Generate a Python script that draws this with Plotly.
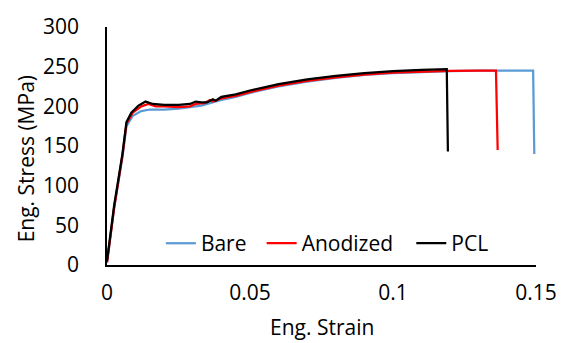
import plotly.graph_objects as go

# Bare (blue)
bare_strain = [0, 0.0025, 0.0054, 0.0068, 0.009, 0.012, 0.015, 0.02, 0.025, 0.03, 0.033, 0.036, 0.04,
               0.045, 0.05, 0.06, 0.07, 0.08, 0.09, 0.1, 0.11, 0.12, 0.13, 0.14, 0.149, 0.1494]
bare_stress = [3, 72, 136, 175, 188, 194, 196, 196, 197, 199, 201, 204, 208,
               212, 217, 225, 231, 236, 239.5, 242, 243.5, 244.5, 245, 245, 245, 140]

# Anodized (red)
anod_strain = [0, 0.0025, 0.0054, 0.0068, 0.009, 0.012, 0.0145, 0.017, 0.02, 0.025, 0.029, 0.031, 0.034,
               0.036, 0.037, 0.04, 0.045, 0.05, 0.06, 0.07, 0.08, 0.09, 0.1, 0.11, 0.12, 0.13, 0.136, 0.1366]
anod_stress = [3, 72, 138, 178, 192, 200, 203, 200, 200, 199, 200, 203, 204,
               208, 206, 210, 213, 218, 226, 232, 236.5, 240, 242.5, 244, 244.8, 245, 245, 145]

# PCL (black)
pcl_strain = [0, 0.0025, 0.0054, 0.0068, 0.0085, 0.011, 0.0135, 0.016, 0.02, 0.025, 0.029, 0.031, 0.033,
              0.035, 0.037, 0.038, 0.04, 0.045, 0.05, 0.06, 0.07, 0.08, 0.09, 0.1, 0.11, 0.118, 0.1188, 0.1192]
pcl_stress = [5, 75, 140, 180, 192, 201, 206, 203, 202, 202, 203, 206, 205,
              205, 209, 207, 212, 215, 220, 228, 234, 238.5, 242, 244.5, 246, 247, 247, 143]

x_ticks = [0, 0.05, 0.1, 0.15]
x_tick_labels = ["0", "0.05", "0.1", "0.15"]
y_ticks = [0, 50, 100, 150, 200, 250, 300]

FONT = "Open Sans"
FS = 21
TFS = 21

fig = go.Figure()
fig.add_trace(go.Scatter(x=bare_strain, y=bare_stress, mode="lines", name="Bare",
                         line=dict(color="#5B9BD5", width=2.25), legend="legend"))
fig.add_trace(go.Scatter(x=anod_strain, y=anod_stress, mode="lines", name="Anodized",
                         line=dict(color="#FF0000", width=2.25), legend="legend2"))
fig.add_trace(go.Scatter(x=pcl_strain, y=pcl_stress, mode="lines", name="PCL",
                         line=dict(color="#000000", width=2.25), legend="legend3"))

leg_common = dict(orientation="h", y=0.09, xanchor="left", yanchor="middle",
                  bgcolor="rgba(0,0,0,0)", font=dict(size=FS), itemwidth=30)

fig.update_layout(
    width=569, height=343,
    margin=dict(l=107, r=32, t=20, b=78),
    paper_bgcolor="white", plot_bgcolor="white",
    font=dict(family=FONT, size=FS, color="#000000"),
    showlegend=True,
    legend=dict(x=0.1256, **leg_common),
    legend2=dict(x=0.3605, **leg_common),
    legend3=dict(x=0.7093, **leg_common),
    xaxis=dict(range=[0, 0.15], tickvals=x_ticks, ticktext=x_tick_labels,
               showgrid=False, zeroline=False, showline=True, linecolor="#000000", linewidth=1.5,
               ticks="", ticklabelstandoff=8),
    yaxis=dict(range=[0, 300], tickvals=y_ticks,
               showgrid=False, zeroline=False, showline=True, linecolor="#000000", linewidth=1.5,
               ticks="", ticklabelstandoff=22),
    annotations=[
        dict(text="Eng. Strain", x=0.5, y=-0.327, xref="paper", yref="paper",
             xanchor="center", yanchor="bottom", showarrow=False, font=dict(size=TFS)),
        dict(text="Eng. Stress (MPa)", x=-0.19, y=0.446, xref="paper", yref="paper",
             xanchor="center", yanchor="middle", showarrow=False, textangle=-90, font=dict(size=TFS)),
    ],
)

fig.write_html("out.html")
